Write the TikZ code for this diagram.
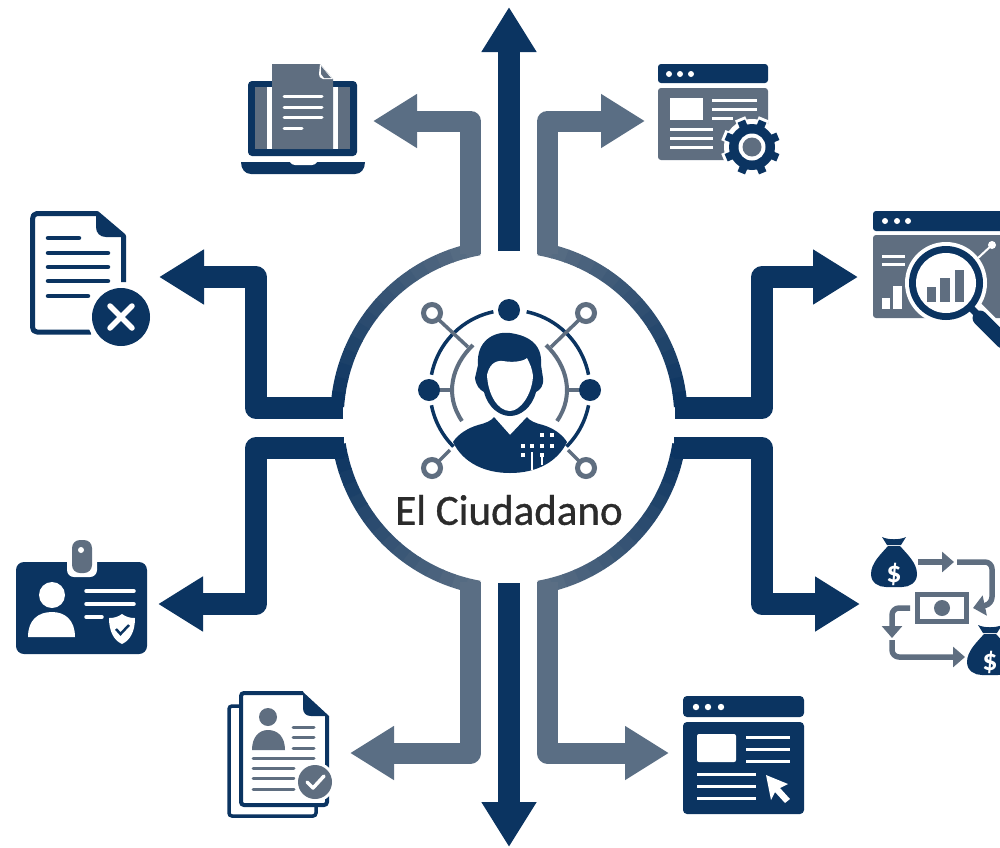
\documentclass[tikz,border=0pt]{standalone}
\usepackage{fontspec}
\setmainfont{Carlito}
\newfontfamily\titlefont[FakeBold=0.8]{Carlito}
\usetikzlibrary{arrows.meta}
\definecolor{navy}{HTML}{0B3461}
\definecolor{slate}{HTML}{5A6E84}
\definecolor{iconslate}{HTML}{5F6E80}
\definecolor{inktext}{HTML}{2B2B2B}
\tikzset{
  armnavy/.style={draw=navy,line width=21.5pt,line join=round,-{Triangle[length=45pt,width=52pt]}},
  armslate/.style={draw=slate,line width=21pt,line join=round,-{Triangle[length=44pt,width=51pt]}},
  wl/.style={draw=white,line width=3.5pt,line cap=round},
  sl/.style={draw=iconslate,line width=3.5pt,line cap=round},
  nl/.style={draw=navy,line width=4.5pt,line cap=round},
  smallarrow/.style={draw=iconslate,line width=5.5pt,line join=round,-{Triangle[length=12pt,width=20pt]}},
  hublink/.style={draw=iconslate,line width=3.5pt},
}
\newcommand{\ringarc}[4]{%
  \foreach \i in {0,...,15}{%
    \pgfmathsetmacro{\angA}{#1+(#2-#1)*\i/16}%
    \pgfmathsetmacro{\angB}{#1+(#2-#1)*(\i+1.05)/16}%
    \pgfmathtruncatemacro{\mixP}{#3+(#4-#3)*\i/15}%
    \draw[line width=13.5pt,color=navy!\mixP!slate] plot[domain=\angA:\angB,samples=4,variable=\t] ({509+172*cos(\t)},{418-172*sin(\t)});
  }}
\newcommand{\moneybag}[2]{%
  \fill[navy] (#1-12,#2-33) .. controls (#1-6,#2-30) and (#1+6,#2-30) .. (#1+12,#2-33) -- (#1+7,#2-25) -- (#1-7,#2-25) -- cycle;
  \fill[navy] (#1-6,#2-24) -- (#1+6,#2-24) .. controls (#1+13,#2-16) and (#1+23,#2-7) .. (#1+23,#2+4) .. controls (#1+23,#2+13) and (#1+15,#2+17) .. (#1+8,#2+17) -- (#1-8,#2+17) .. controls (#1-15,#2+17) and (#1-23,#2+13) .. (#1-23,#2+4) .. controls (#1-23,#2-7) and (#1-13,#2-16) .. (#1-6,#2-24) -- cycle;
}
\begin{document}
\begin{tikzpicture}[x=1pt,y=-1pt]
\useasboundingbox (0,0) rectangle (1000,847);
\clip (0,0) rectangle (1000,847);
\fill[white] (0,0) rectangle (1000,847);

% ---- ring ----
\ringarc{100}{176}{0}{100}
\ringarc{80}{4}{0}{100}
\ringarc{260}{189}{0}{100}
\ringarc{280}{351}{0}{100}

% ---- connector coordinates ----
\coordinate (hubN) at (509,251);
\coordinate (hubS) at (509,583);
\coordinate (docTip) at (373,121);
\coordinate (webTip) at (645,121);
\coordinate (tipN) at (509,7);
\coordinate (tipS) at (509,847);
\coordinate (rejTip) at (159,277);
\coordinate (chartTip) at (858,277);
\coordinate (idTip) at (158,604);
\coordinate (moneyTip) at (860,604);
\coordinate (cvTip) at (350,753);
\coordinate (cursorTip) at (669,753);

% ---- connectors ----
\draw[armnavy] (hubN) -- (tipN);
\draw[armnavy] (hubS) -- (tipS);
\draw[armslate] (470.5,254) |- (docTip);
\draw[armslate] (547.5,254) |- (webTip);
\draw[armslate] (470.5,582) |- (cvTip);
\draw[armslate] (547.5,582) |- (cursorTip);
\draw[armnavy] (343,408) -| (256,277) -- (rejTip);
\draw[armnavy] (344,448) -| (256,604) -- (idTip);
\draw[armnavy] (675,408) -| (762,277) -- (chartTip);
\draw[armnavy] (674,448) -| (762,604) -- (moneyTip);

% ---- centre icon ----
\draw[navy,line width=3.5pt] plot[domain=102:169,samples=20,variable=\t] ({510+80*cos(\t)},{390-80*sin(\t)});
\draw[navy,line width=3.5pt] plot[domain=78:11,samples=20,variable=\t] ({510+80*cos(\t)},{390-80*sin(\t)});
\draw[navy,line width=3.5pt] plot[domain=191:225,samples=12,variable=\t] ({510+80*cos(\t)},{390-80*sin(\t)});
\draw[navy,line width=3.5pt] plot[domain=349:315,samples=12,variable=\t] ({510+80*cos(\t)},{390-80*sin(\t)});
\draw[hublink] (429,390) -- (453,390);
\draw[hublink] (590,390) -- (566,390);
\draw[hublink] (438,319) -- (468,347);
\draw[hublink] (580,319) -- (551,347);
\draw[hublink] (438,462) -- (450,450);
\draw[hublink] (580,462) -- (568,450);
\draw[iconslate,line width=4pt] (473,345) .. controls (452,365) and (444,395) .. (462,421);
\draw[iconslate,line width=4pt] (546,345) .. controls (567,365) and (575,395) .. (557,421);
\draw[iconslate,line width=5pt] (432,313) circle[radius=8.5pt];
\draw[iconslate,line width=5pt] (586,313) circle[radius=8.5pt];
\draw[iconslate,line width=5pt] (432,468) circle[radius=8.5pt];
\draw[iconslate,line width=5pt] (586,468) circle[radius=8.5pt];
\fill[navy] (509,310) circle[radius=11pt];
\fill[navy] (429,390) circle[radius=11pt];
\fill[navy] (590,390) circle[radius=11pt];
% person
\fill[navy] (510,333) .. controls (495,331) and (476,340) .. (478,365) -- (475,378)
  .. controls (476,386) and (480,390) .. (484,392) .. controls (488,408) and (500,416) .. (510,416)
  .. controls (520,416) and (532,408) .. (536,392) .. controls (540,390) and (544,386) .. (543,378)
  -- (541,365) .. controls (543,342) and (525,335) .. (510,333) -- cycle;
\fill[white] (487,375) .. controls (489,366) and (494,360) .. (503,361)
  .. controls (514,363) and (524,361) .. (527,358) .. controls (530,364) and (532,368) .. (533,376)
  .. controls (532,395) and (520,411) .. (510,411) .. controls (498,411) and (488,395) .. (487,375) -- cycle;
\fill[navy] (453,442) .. controls (458,434) and (468,428) .. (478,425) .. controls (486,423) and (491,421) .. (494,417) -- (510,435) -- (527,417)
  .. controls (530,421) and (535,423) .. (543,425) .. controls (553,428) and (562,434) .. (567,442)
  .. controls (557,463) and (535,473) .. (510,473)
  .. controls (485,473) and (463,463) .. (453,442) -- cycle;
\foreach \p in {(542,435),(552,435),(523,446),(532,446),(542,446),(552,446),(523,455),(542,455)}
  \fill[white] \p ++(-2.2,-2.2) rectangle ++(4.4,4.4);
\draw[white,line width=2pt] (532,452) -- (532,470);
\draw[white,line width=2pt] (542,456) -- (542,465);
\node[text=inktext,font=\titlefont\fontsize{43}{48}\selectfont,inner sep=0pt] (title) at (509,510) {El Ciudadano};

% ---- laptop + document ----
\fill[navy,rounded corners=4pt] (248,81) rectangle (357,156);
\fill[iconslate] (255,87) rectangle (350,149);
\fill[white] (267,87) rectangle (338,149);
\fill[iconslate] (272,64) -- (320,64) -- (333,79) -- (333,149) -- (272,149) -- cycle;
\fill[white] (320,64) -- (333,79) -- (323,79) .. controls (320,79) and (319,76) .. (319,74) -- cycle;
\fill[iconslate] (321,66) -- (331,78) -- (324,78) -- (321,74) -- cycle;
\draw[wl,line width=3pt] (284,96) -- (322,96);
\draw[wl,line width=3pt] (284,107) -- (322,107);
\draw[wl,line width=3pt] (284,117) -- (322,117);
\draw[wl,line width=3pt] (284,128) -- (302,128);
\fill[navy] (241,162) -- (365,162) .. controls (365,169) and (361,174) .. (355,174) -- (251,174) .. controls (245,174) and (241,169) .. (241,162) -- cycle;
\fill[white] (290,162) -- (317,162) .. controls (316,164) and (314,165) .. (312,165) -- (295,165) .. controls (293,165) and (291,164) .. (290,162) -- cycle;

% ---- rejected document ----
\draw[navy,line width=5pt,line join=round] (91,332) -- (37,332) .. controls (34,332) and (32.5,330) .. (32.5,327) -- (32.5,219) .. controls (32.5,216) and (34,213.5) .. (37,213.5) -- (97,213.5) -- (123.5,236) -- (123.5,282);
\fill[navy,line join=round] (96,212) -- (126,237) -- (106,237) .. controls (100,237) and (96,233) .. (96,227) -- cycle;
\foreach \y/\xe in {238/79,253/108,267/108,281/108,296/88}
  \draw[nl] (48,\y) -- (\xe,\y);
\fill[white] (121,317) circle[radius=34pt];
\fill[navy] (121,317) circle[radius=29pt];
\draw[white,line width=5.5pt,line cap=round] (110,306) -- (132,328);
\draw[white,line width=5.5pt,line cap=round] (132,306) -- (110,328);

% ---- ID card ----
\fill[navy,rounded corners=8pt] (16,562) rectangle (147,654);
\fill[white,rounded corners=7pt] (67,555) rectangle (97,577);
\fill[iconslate,rounded corners=8pt] (72,540) rectangle (92,573);
\fill[white] (81,550) circle[radius=3pt];
\fill[white] (52,595) circle[radius=13pt];
\fill[white] (28,637) .. controls (28,620) and (38,612) .. (52,612) .. controls (65,612) and (75,620) .. (75,637) -- cycle;
\draw[wl] (86,591) -- (134,591);
\draw[wl] (86,604) -- (134,604);
\draw[wl] (86,617) -- (102,617);
\fill[white] (122,614) .. controls (126,617) and (130,618) .. (135,618) .. controls (135,630) and (131,640) .. (122,644) .. controls (113,640) and (109,630) .. (109,618) .. controls (114,618) and (118,617) .. (122,614) -- cycle;
\draw[navy,line width=2.5pt] (116,629) -- (120.5,634) -- (129,625);

% ---- document stack ----
\draw[navy,line width=3.5pt,rounded corners=3pt] (240,706) -- (229,706) -- (229,816) -- (316,816) -- (316,806);
\fill[white] (240,692) rectangle (328,806);
\draw[navy,line width=4pt,rounded corners=3pt] (303,693) -- (241,693) -- (241,805) -- (327,805) -- (327,716);
\fill[navy] (303,692) -- (329,716) -- (311,716) .. controls (306,716) and (303,713) .. (303,708) -- cycle;
\fill[iconslate] (268,717) circle[radius=9pt];
\fill[iconslate] (252,750) .. controls (252,737) and (259,730) .. (268,730) .. controls (278,730) and (285,737) .. (285,750) -- cycle;
\foreach \y in {727,737,748} \draw[sl,line width=3pt] (293,\y) -- (314,\y);
\draw[sl,line width=3pt] (253,758) -- (314,758);
\foreach \y in {768,778,789} \draw[sl,line width=3pt] (253,\y) -- (294,\y);
\fill[white] (315,782) circle[radius=20pt];
\fill[iconslate] (315,782) circle[radius=17pt];
\draw[white,line width=3.5pt,line cap=round,line join=round] (307,782) -- (313,788) -- (324,776);

% ---- browser + gear ----
\fill[navy,rounded corners=3pt] (658,64) rectangle (768,83);
\foreach \x in {669,680,691} \fill[white] (\x,74) circle[radius=3pt];
\fill[iconslate,rounded corners=3pt] (658,88) rectangle (768,160);
\fill[white] (670,98) rectangle (703,120);
\foreach \y in {100,109} \draw[white,line width=3pt] (712,\y) -- (757,\y);
\draw[white,line width=3pt] (712,118) -- (733,118);
\foreach \y in {129,138,147} \draw[white,line width=3pt] (670,\y) -- (713,\y);
\fill[white] (752,147) circle[radius=28pt];
\foreach \a in {22.5,67.5,...,337.5}
  \draw[white,line width=11pt] (752,147) -- ++({31*cos(\a)},{31*sin(\a)});
\foreach \a in {22.5,67.5,...,337.5}
  \draw[navy,line width=8pt] (752,147) -- ++({28*cos(\a)},{28*sin(\a)});
\fill[navy] (752,147) circle[radius=23pt];
\fill[white] (752,147) circle[radius=13.5pt];
\fill[iconslate] (752,147) circle[radius=9.5pt];

% ---- browser + chart ----
\fill[navy,rounded corners=3pt] (873,211) rectangle (1010,231);
\foreach \x in {885,897,908} \fill[white] (\x,221) circle[radius=3pt];
\fill[iconslate,rounded corners=3pt] (873,235) rectangle (1010,318);
\foreach \y in {256,264} \draw[white,line width=3pt] (882,\y) -- (905,\y);
\fill[white] (882,298) rectangle (890,309);
\fill[white] (893,286) rectangle (902,309);
\draw[white,line width=2pt] (978,258) -- (992,245);
\fill[white] (992,245) circle[radius=4pt];
\draw[white,line width=22pt] (970,308) -- (1005,343);
\fill[white] (946,283) circle[radius=41pt];
\fill[navy] (946,283) circle[radius=37pt];
\fill[white] (946,283) circle[radius=30pt];
\fill[iconslate] (927,287) rectangle (936,302);
\fill[iconslate] (940,278) rectangle (950,302);
\fill[iconslate] (955,270) rectangle (964,302);
\draw[navy,line width=7pt] (970,307) -- (980,317);
\draw[navy,line width=15pt,line cap=round] (980,318) -- (1003,341);

% ---- money flow ----
\moneybag{894}{570}
\moneybag{990}{658}
\node[text=white,font=\bfseries\fontsize{30}{30}\selectfont,inner sep=0pt] (bagA) at (894,574) {\$};
\node[text=white,font=\bfseries\fontsize{30}{30}\selectfont,inner sep=0pt] (bagB) at (990,662) {\$};
\coordinate (flowA) at (918,562);
\coordinate (flowAt) at (954,562);
\draw[smallarrow] (flowA) -- (flowAt);
\coordinate (flowB) at (957,562);
\coordinate (flowBt) at (973,608);
\draw[smallarrow,rounded corners=7pt] (flowB) -- (992,562) -- (992,604) -- (flowBt);
\draw[iconslate,line width=5.5pt] (917.5,594.5) rectangle (966.5,621.5);
\fill[iconslate] (942,608) circle[radius=8pt];
\coordinate (flowC) at (910,608);
\coordinate (flowCt) at (892,638);
\draw[smallarrow,rounded corners=7pt] (flowC) -- (892,608) -- (flowCt);
\coordinate (flowD) at (892,640);
\coordinate (flowDt) at (965,657);
\draw[smallarrow,rounded corners=7pt] (flowD) -- (892,657) -- (flowDt);

% ---- browser + cursor ----
\fill[navy,rounded corners=4pt] (683,696) rectangle (804,717);
\foreach \x in {696,708,721} \fill[white] (\x,707) circle[radius=3.2pt];
\fill[navy,rounded corners=4pt] (683,722) rectangle (804,814);
\fill[white,rounded corners=2pt] (697,734) rectangle (736,762);
\foreach \y in {737,749,761} \draw[white,line width=3pt] (746,\y) -- (790,\y);
\foreach \y in {774,786,798} \draw[white,line width=3pt] (697,\y) -- (756,\y);
\fill[white] (766,775) -- (788,784) -- (780,788) -- (790,799) -- (785,803) -- (775,792) -- (771,800) -- cycle;
\end{tikzpicture}
\end{document}
